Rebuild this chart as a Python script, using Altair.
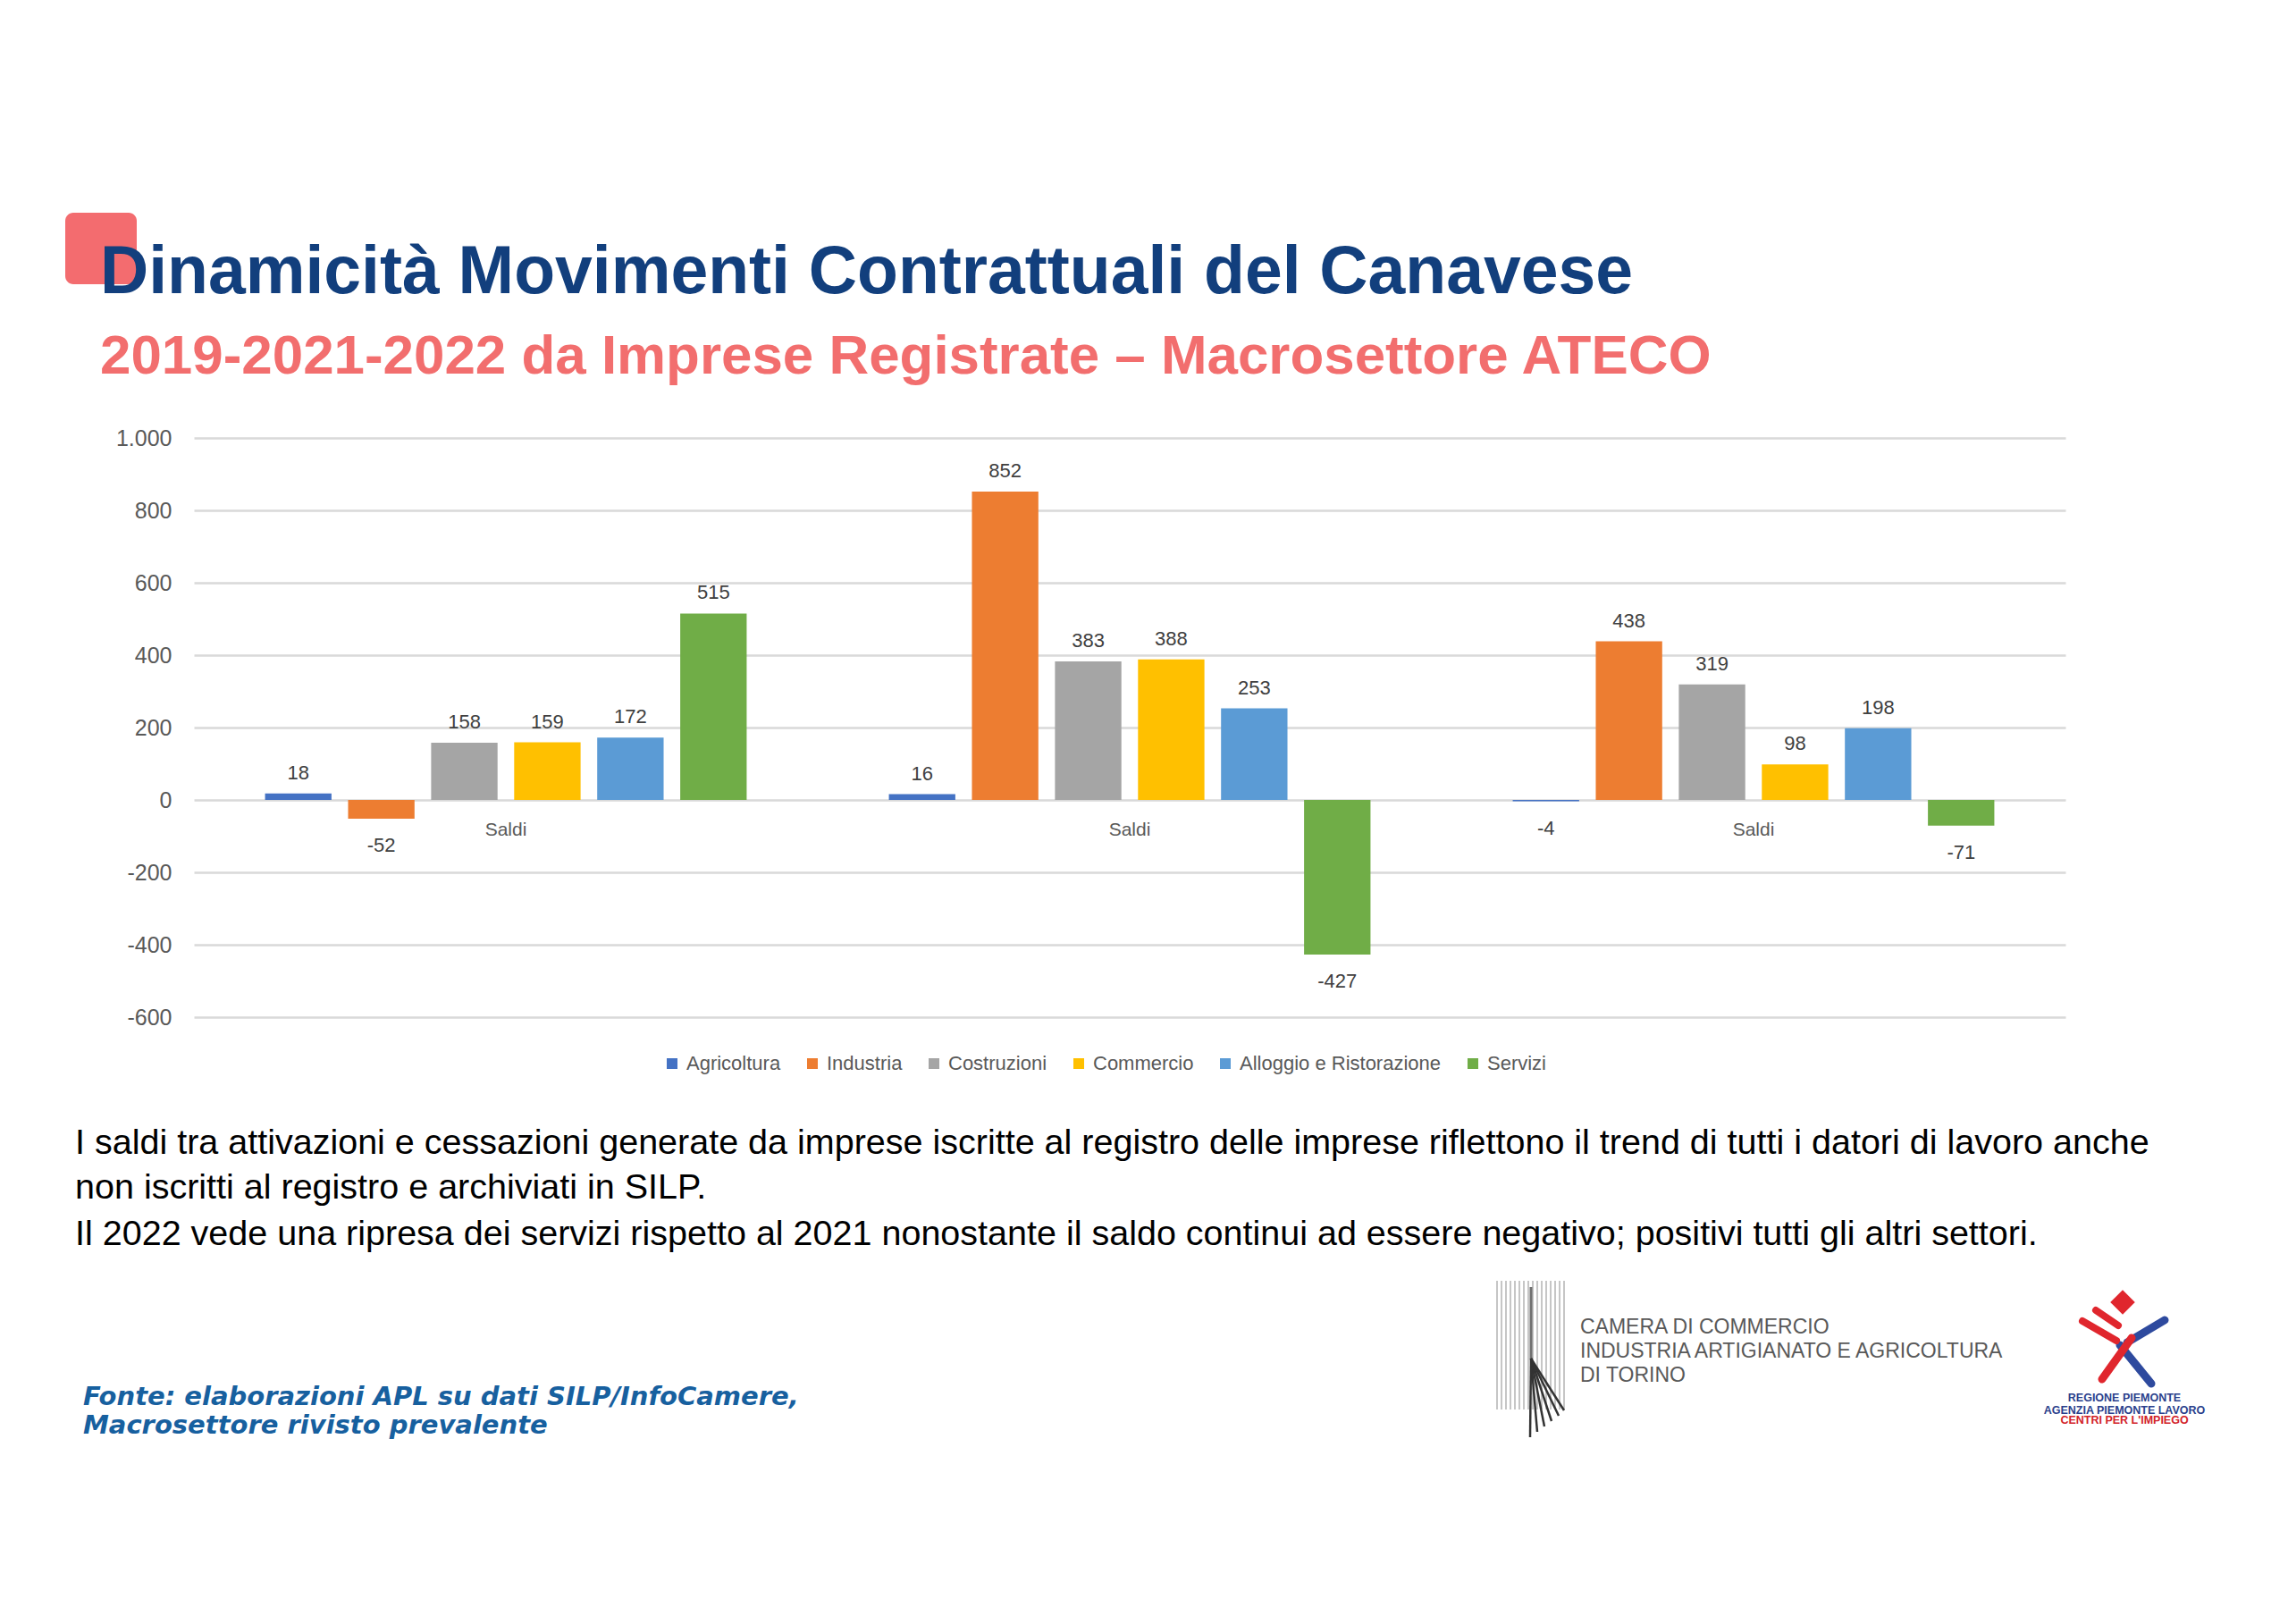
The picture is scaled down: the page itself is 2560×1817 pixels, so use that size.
import altair as alt
import pandas as pd

# ---------------- data ----------------
sectors = ["Agricoltura", "Industria", "Costruzioni", "Commercio",
           "Alloggio e Ristorazione", "Servizi"]
sector_colors = ["#4472C4", "#ED7D31", "#A5A5A5", "#FFC000", "#5B9BD5", "#70AD47"]
years = ["2019", "2021", "2022"]
group_label = "Saldi"
values_2019 = [18, -52, 158, 159, 172, 515]
values_2021 = [16, 852, 383, 388, 253, -427]
values_2022 = [-4, 438, 319, 98, 198, -71]
y_ticks = [-600, -400, -200, 0, 200, 400, 600, 800, 1000]

title_text = "Dinamicità Movimenti Contrattuali del Canavese"
subtitle_text = "2019-2021-2022 da Imprese Registrate \u2013 Macrosettore ATECO"
body_lines = [
    "I saldi tra attivazioni e cessazioni generate da imprese iscritte al registro delle imprese riflettono il trend di tutti i datori di lavoro anche",
    "non iscritti al registro e archiviati in SILP.",
    "Il 2022 vede una ripresa dei servizi rispetto al 2021 nonostante il saldo continui ad essere negativo; positivi tutti gli altri settori.",
]
source_lines = [
    "Fonte: elaborazioni APL su dati SILP/InfoCamere,",
    "Macrosettore rivisto prevalente",
]
camera_lines = ["CAMERA DI COMMERCIO", "INDUSTRIA ARTIGIANATO E AGRICOLTURA", "DI TORINO"]
regione_lines = ["REGIONE PIEMONTE", "AGENZIA PIEMONTE LAVORO", "CENTRI PER L'IMPIEGO"]

rows = []
for yr, vals in zip(years, [values_2019, values_2021, values_2022]):
    for s, v in zip(sectors, vals):
        rows.append({"anno": yr, "settore": s, "valore": v, "etichetta": str(v)})
df = pd.DataFrame(rows)
df_groups = pd.DataFrame({"anno": years, "valore": [0] * len(years),
                          "gruppo": [group_label] * len(years)})

FONT = "Liberation Sans"

# ---------------- encodings ----------------
x_enc = alt.X("anno:N", sort=years,
              scale=alt.Scale(domain=years, paddingInner=0.228, paddingOuter=0.114),
              axis=None)
xoff_enc = alt.XOffset("settore:N", sort=sectors,
                       scale=alt.Scale(domain=sectors, paddingInner=0.2, paddingOuter=0))
y_enc = alt.Y("valore:Q",
              scale=alt.Scale(domain=[-600, 1000], nice=False, zero=False),
              axis=alt.Axis(values=y_ticks, title=None, domain=False, ticks=False,
                            tickSize=0, labelPadding=25, labelFontSize=25,
                            labelFont=FONT, labelColor="#595959",
                            gridColor="#D9D9D9", gridWidth=2.5,
                            labelExpr="replace(replace(format(datum.value, ','), ',', '.'), '\u2212', '-')"))
color_enc = alt.Color("settore:N", sort=sectors,
                      scale=alt.Scale(domain=sectors, range=sector_colors),
                      legend=alt.Legend(title=None, orient="none", legendX=524, legendY=689,
                                        direction="horizontal", symbolType="square",
                                        symbolSize=144, symbolStrokeWidth=0,
                                        labelFontSize=22, labelFont=FONT,
                                        labelColor="#595959", columnPadding=24,
                                        labelOffset=5, padding=0, labelLimit=500))

base = alt.Chart(df)
bars = base.mark_bar().encode(x=x_enc, xOffset=xoff_enc, y=y_enc, color=color_enc)
lab_pos = base.transform_filter("datum.valore >= 0").mark_text(
    baseline="alphabetic", dy=-16, fontSize=22, font=FONT, color="#404040"
).encode(x=x_enc, xOffset=xoff_enc, y=y_enc, text="etichetta:N")
lab_neg = base.transform_filter("datum.valore < 0").mark_text(
    baseline="alphabetic", dy=37, fontSize=22, font=FONT, color="#404040"
).encode(x=x_enc, xOffset=xoff_enc, y=y_enc, text="etichetta:N")
saldi = alt.Chart(df_groups).mark_text(
    baseline="alphabetic", dy=40, fontSize=21, font=FONT, color="#595959"
).encode(x=x_enc, y=y_enc, text="gruppo:N")


# ---------------- decorations ----------------
def txt(s, x, y, size, color, weight="normal", style="normal", font=FONT, align="left"):
    return alt.Chart(alt.Data(values=[{"t": s}])).mark_text(
        align=align, baseline="alphabetic", fontSize=size, color=color,
        fontWeight=weight, fontStyle=style, font=font
    ).encode(x=alt.value(x), y=alt.value(y), text="t:N")


def seg(x1, y1, x2, y2, color, width, cap="butt"):
    return alt.Chart(alt.Data(values=[{"k": 1}])).mark_rule(
        color=color, strokeWidth=width, strokeCap=cap
    ).encode(x=alt.value(x1), y=alt.value(y1), x2=alt.value(x2), y2=alt.value(y2))


deco = []
# red square behind title
deco.append(alt.Chart(alt.Data(values=[{"k": 1}])).mark_rect(
    color="#F36C6F", cornerRadius=9
).encode(x=alt.value(-144), x2=alt.value(-64), y=alt.value(-252), y2=alt.value(-172)))
deco.append(txt(title_text, -105, -162, 75.1, "#123F7D", weight="bold"))
deco.append(txt(subtitle_text, -105, -72, 61.9, "#F26E6E", weight="bold"))
for i, line in enumerate(body_lines):
    deco.append(txt(line, -133, [801, 851, 903][i], 39.5, "#000000"))
for i, line in enumerate(source_lines):
    deco.append(txt(line, -124, [1082, 1114][i], 29, "#17609F", weight="bold",
                    style="italic", font="DejaVu Sans"))
for i, line in enumerate(camera_lines):
    deco.append(txt(line, 1551, [1002, 1029, 1056][i], 23, "#595959"))

# Camera di Commercio logo (simplified)
for k in range(16):
    xx = 1458 + k * 5
    deco.append(seg(xx, 943, xx, 1087, "#A0A0A0", 1.2))
deco.append(seg(1496, 950, 1496, 1030, "#707070", 3))
for ex, ey in [(1495, 1118), (1503, 1112), (1511, 1106), (1519, 1100), (1527, 1094), (1533, 1088)]:
    deco.append(seg(1496, 1030, ex, ey, "#333333", 2.5))

# Regione Piemonte logo (simplified)
deco.append(seg(2155, 1015, 2190, 1058, "#2E4A9E", 9, "round"))
deco.append(seg(2205, 987, 2163, 1012, "#2E4A9E", 9, "round"))
deco.append(seg(2168, 1007, 2135, 1053, "#E0262D", 9, "round"))
deco.append(seg(2113, 988, 2151, 1010, "#E0262D", 8, "round"))
deco.append(seg(2128, 976, 2153, 993, "#E0262D", 8, "round"))
deco.append(alt.Chart(alt.Data(values=[{"k": 1}])).mark_square(
    color="#E0262D", size=380, angle=45, opacity=1
).encode(x=alt.value(2158), y=alt.value(967)))
for i, line in enumerate(regione_lines):
    deco.append(txt(line, 2160, [1078, 1092, 1103][i], 12.5,
                    "#2B3F8C" if i < 2 else "#D2232A", weight="bold", align="center"))

chart = alt.layer(bars, lab_pos, lab_neg, saldi, *deco).properties(
    width=2094, height=648,
    autosize=alt.AutoSizeParams(type="none"),
    padding={"left": 209, "top": 482, "right": 241, "bottom": 655},
    background="white",
).configure_view(stroke=None)

chart.save("out.html", embed_options={"renderer": "svg", "actions": False})
